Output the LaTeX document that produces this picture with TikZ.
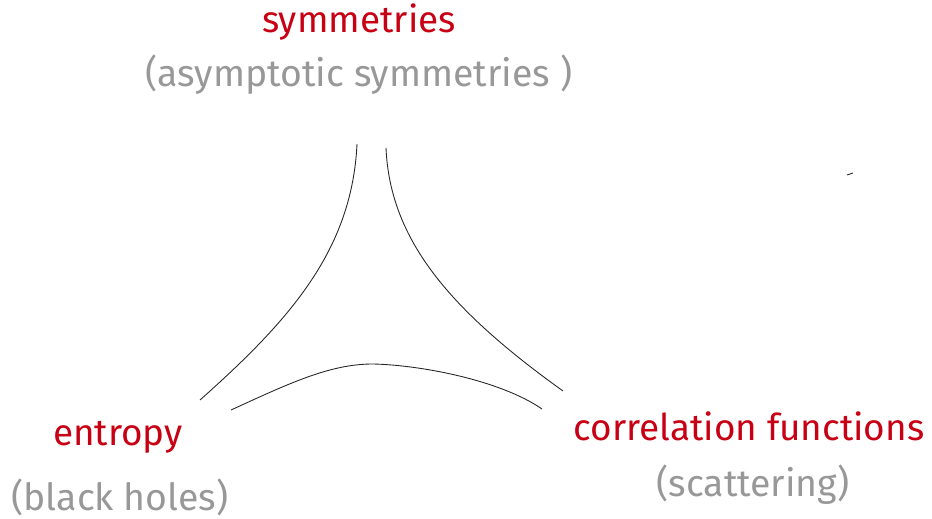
\documentclass[tikz,border=0pt]{standalone}
\usepackage{fontspec}
\setmainfont{Fira Sans}
\usepackage{tikz}
\usetikzlibrary{positioning}
\definecolor{TopicRed}{RGB}{200,0,20}
\definecolor{NoteGray}{RGB}{152,152,152}

\begin{document}
\begin{tikzpicture}[
  x=0.02cm, y=-0.02cm,
  topic/.style={
    anchor=base,
    text=TopicRed,
    inner sep=0pt,
    font=\fontsize{21}{25}\selectfont
  },
  note/.style={
    anchor=base,
    text=NoteGray,
    inner sep=0pt,
    font=\fontsize{21.3}{25}\selectfont
  },
  link/.style={line width=0.5pt, black!85}
]
\useasboundingbox (0,0) rectangle (932,519);

% Corners
\node[topic] (sym)  at (359,33)  {symmetries};
\node[note]  (asym) at (359,87)  {(asymptotic symmetries )};
\node[topic] (ent)  at (118,446) {entropy};
\node[note]  (bh)   at (120,510) {(black holes)};
\node[topic] (corr) at (749,441) {correlation functions};
\node[note]  (scat) at (753,497) {(scattering)};

% Curve ends
\coordinate (l1) at (357,144);
\coordinate (l2) at (200,400);
\coordinate (r1) at (386,148);
\coordinate (r2) at (563,391);
\coordinate (b1) at (231,410);
\coordinate (bm) at (373,364);
\coordinate (b2) at (542,409);

\draw[link] (l1) .. controls (352,250) and (290,320) .. (l2);
\draw[link] (r1) .. controls (390,240) and (450,310) .. (r2);
\draw[link] (b1) .. controls (290,383) and (330,364) .. (bm)
  .. controls (420,365) and (500,380) .. (b2);

% stray mark
\coordinate (m1) at (847,175);
\coordinate (m2) at (853,173);
\draw[link] (m1) -- (m2);
\end{tikzpicture}
\end{document}
